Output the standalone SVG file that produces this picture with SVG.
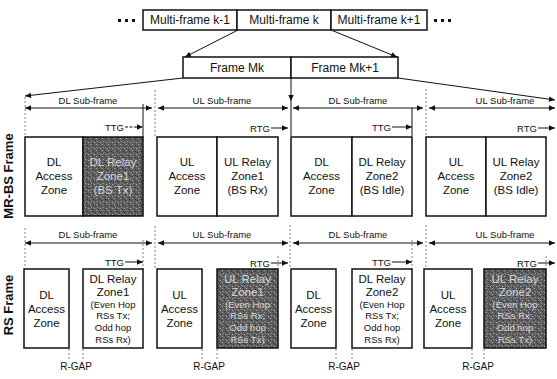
<svg xmlns="http://www.w3.org/2000/svg" width="557" height="379" viewBox="0 0 557 379">
<defs>
<marker id="ah" viewBox="0 0 10 10" refX="10" refY="5" markerWidth="7" markerHeight="6" markerUnits="userSpaceOnUse" orient="auto-start-reverse"><path d="M0,0.5 L10,5 L0,9.5 z" fill="#111"/></marker>
<pattern id="stip" width="6" height="6" patternUnits="userSpaceOnUse">
<rect width="6" height="6" fill="#5e5e5e"/>
<rect x="0" y="0" width="1" height="1" fill="#a8a8a8"/>
<rect x="3" y="1" width="1" height="1" fill="#2e2e2e"/>
<rect x="1" y="3" width="1" height="1" fill="#999"/>
<rect x="4" y="4" width="1" height="1" fill="#b0b0b0"/>
<rect x="5" y="2" width="1" height="1" fill="#383838"/>
<rect x="2" y="5" width="1" height="1" fill="#3c3c3c"/>
</pattern>
<style>
text{font-family:"Liberation Sans",Arial,Helvetica,sans-serif;fill:#111}
.box{fill:#fff;stroke:#111;stroke-width:1.5}
.sh{fill:url(#stip);stroke:#111;stroke-width:1.5}
.top{font-size:12px;text-anchor:middle}
.z{font-size:11.5px;text-anchor:middle}
.zs{font-size:9.5px;text-anchor:middle}
.lt{fill:#d6d6d6}
.sm{font-size:9.5px}
.rg{font-size:10px;text-anchor:middle}
.c{text-anchor:middle}
.e{text-anchor:end}
.ln{stroke:#111;stroke-width:1;fill:none}
.arr{stroke:#111;stroke-width:1;fill:none;marker-end:url(#ah)}
.dbl{stroke:#111;stroke-width:1;fill:none;marker-start:url(#ah);marker-end:url(#ah)}
.dash{stroke:#666;stroke-width:0.8;fill:none;stroke-dasharray:2 2}
.lab{font-size:13px;font-weight:bold;text-anchor:middle}
.dot{fill:#111}
</style>
</defs>

<g id="multiframes">
<rect x="118" y="19" width="3" height="3" class="dot"/>
<rect x="125" y="19" width="3" height="3" class="dot"/>
<rect x="132" y="19" width="3" height="3" class="dot"/>
<rect x="434" y="19" width="3" height="3" class="dot"/>
<rect x="441" y="19" width="3" height="3" class="dot"/>
<rect x="448" y="19" width="3" height="3" class="dot"/>
<g id="mf-km1"><rect x="143" y="10" width="94" height="20" class="box"/><text x="190" y="24" class="top">Multi-frame k-1</text></g>
<g id="mf-k"><rect x="237" y="10" width="94" height="20" class="box"/><text x="284" y="24" class="top">Multi-frame k</text></g>
<g id="mf-kp1"><rect x="331" y="10" width="96" height="20" class="box"/><text x="379" y="24" class="top">Multi-frame k+1</text></g>
</g>

<g id="frames">
<g id="frame-mk"><rect x="183" y="57" width="108" height="21" class="box"/><text x="237" y="72" class="top">Frame Mk</text></g>
<g id="frame-mk1"><rect x="291" y="57" width="107" height="21" class="box"/><text x="345" y="72" class="top">Frame Mk+1</text></g>
</g>

<g id="connectors">
<line x1="238" y1="30" x2="185" y2="57" class="arr"/>
<line x1="331" y1="30" x2="397" y2="57" class="arr"/>
<line x1="183" y1="78" x2="25" y2="96" class="arr"/>
<line x1="398" y1="78" x2="555" y2="100" class="arr"/>
<line x1="291" y1="78" x2="291" y2="101" class="arr"/>
<line x1="25" y1="97" x2="25" y2="137" class="dash"/>
<line x1="155" y1="90" x2="155" y2="137" class="dash"/>
<line x1="291" y1="101" x2="291" y2="136" class="ln"/>
<line x1="426" y1="89" x2="426" y2="136" class="dash"/>
<line x1="143" y1="104" x2="143" y2="137" class="ln"/>
<line x1="412" y1="108" x2="412" y2="136" class="ln"/>
<line x1="25" y1="108" x2="152" y2="108" class="dbl"/>
<line x1="158" y1="108" x2="288" y2="108" class="dbl"/>
<line x1="293" y1="108" x2="423" y2="108" class="dbl"/>
<line x1="429" y1="108" x2="555" y2="108" class="dbl"/>
<line x1="125" y1="127" x2="143" y2="127" class="arr" stroke-dasharray="3 1.5"/>
<line x1="271" y1="128" x2="288" y2="128" class="arr"/>
<line x1="392" y1="127" x2="412" y2="127" class="arr"/>
<line x1="538" y1="128" x2="555" y2="128" class="arr"/>
<line x1="25" y1="228" x2="25" y2="269" class="dash"/>
<line x1="155" y1="226" x2="155" y2="269" class="dash"/>
<line x1="290" y1="225" x2="290" y2="269" class="dash"/>
<line x1="426" y1="225" x2="426" y2="269" class="dash"/>
<line x1="143" y1="240" x2="143" y2="269" class="dash"/>
<line x1="412" y1="240" x2="412" y2="269" class="dash"/>
<line x1="278" y1="256" x2="278" y2="269" class="dash"/>
<line x1="546" y1="256" x2="546" y2="269" class="dash"/>
<line x1="25" y1="243" x2="152" y2="243" class="dbl"/>
<line x1="158" y1="243" x2="288" y2="243" class="dbl"/>
<line x1="293" y1="243" x2="423" y2="243" class="dbl"/>
<line x1="429" y1="243" x2="555" y2="243" class="dbl"/>
<line x1="125" y1="262" x2="143" y2="262" class="arr"/>
<line x1="271" y1="263" x2="288" y2="263" class="arr"/>
<line x1="392" y1="262" x2="412" y2="262" class="arr"/>
<line x1="538" y1="263" x2="555" y2="263" class="arr"/>
<line x1="69" y1="349" x2="69" y2="359" class="dash"/>
<line x1="83" y1="349" x2="83" y2="359" class="dash"/>
<line x1="202" y1="349" x2="202" y2="359" class="dash"/>
<line x1="217" y1="349" x2="217" y2="359" class="dash"/>
<line x1="336" y1="349" x2="336" y2="359" class="dash"/>
<line x1="352" y1="349" x2="352" y2="359" class="dash"/>
<line x1="472" y1="349" x2="472" y2="359" class="dash"/>
<line x1="484" y1="349" x2="484" y2="359" class="dash"/>
</g>

<g id="labels">
<text x="88" y="104" class="sm c">DL Sub-frame</text>
<text x="222" y="104" class="sm c">UL Sub-frame</text>
<text x="358" y="104" class="sm c">DL Sub-frame</text>
<text x="505" y="104" class="sm c">UL Sub-frame</text>
<text x="124" y="130.5" class="sm e">TTG</text>
<text x="270" y="131.5" class="sm e">RTG</text>
<text x="391" y="130.5" class="sm e">TTG</text>
<text x="537" y="131.5" class="sm e">RTG</text>
<text x="88" y="238" class="sm c">DL Sub-frame</text>
<text x="222" y="238" class="sm c">UL Sub-frame</text>
<text x="358" y="238" class="sm c">DL Sub-frame</text>
<text x="505" y="238" class="sm c">UL Sub-frame</text>
<text x="124" y="265.5" class="sm e">TTG</text>
<text x="270" y="266.5" class="sm e">RTG</text>
<text x="391" y="265.5" class="sm e">TTG</text>
<text x="537" y="266.5" class="sm e">RTG</text>
<text x="76" y="370" class="rg">R-GAP</text>
<text x="209" y="370" class="rg">R-GAP</text>
<text x="344" y="370" class="rg">R-GAP</text>
<text x="478" y="370" class="rg">R-GAP</text>
<text class="lab" transform="translate(13,176) rotate(-90)">MR-BS Frame</text>
<text class="lab" transform="translate(13,305) rotate(-90)">RS Frame</text>
</g>

<g id="mr-dl-access1"><rect x="25" y="137" width="58" height="79" class="box"/>
<text class="z" x="54" y="166">DL</text><text class="z" x="54" y="180">Access</text><text class="z" x="54" y="194">Zone</text></g>
<g id="mr-dl-relay1"><rect x="83" y="137" width="60" height="79" class="sh"/>
<text class="z lt" x="113" y="166">DL Relay</text><text class="z lt" x="113" y="180">Zone1</text><text class="z lt" x="113" y="194">(BS Tx)</text></g>
<g id="mr-ul-access1"><rect x="157" y="137" width="60" height="79" class="box"/>
<text class="z" x="187" y="166">UL</text><text class="z" x="187" y="180">Access</text><text class="z" x="187" y="194">Zone</text></g>
<g id="mr-ul-relay1"><rect x="217" y="137" width="61" height="79" class="box"/>
<text class="z" x="247.5" y="166">UL Relay</text><text class="z" x="247.5" y="180">Zone1</text><text class="z" x="247.5" y="194">(BS Rx)</text></g>
<g id="mr-dl-access2"><rect x="291" y="137" width="61" height="79" class="box"/>
<text class="z" x="321.5" y="166">DL</text><text class="z" x="321.5" y="180">Access</text><text class="z" x="321.5" y="194">Zone</text></g>
<g id="mr-dl-relay2"><rect x="352" y="137" width="60" height="79" class="box"/>
<text class="z" x="382" y="166">DL Relay</text><text class="z" x="382" y="180">Zone2</text><text class="z" x="382" y="194">(BS Idle)</text></g>
<g id="mr-ul-access2"><rect x="426" y="137" width="60" height="79" class="box"/>
<text class="z" x="456" y="166">UL</text><text class="z" x="456" y="180">Access</text><text class="z" x="456" y="194">Zone</text></g>
<g id="mr-ul-relay2"><rect x="486" y="137" width="60" height="79" class="box"/>
<text class="z" x="516" y="166">UL Relay</text><text class="z" x="516" y="180">Zone2</text><text class="z" x="516" y="194">(BS Idle)</text></g>

<g id="rs-dl-access1"><rect x="24" y="269" width="45" height="79" class="box"/>
<text class="z" x="46.5" y="299">DL</text><text class="z" x="46.5" y="313">Access</text><text class="z" x="46.5" y="327">Zone</text></g>
<g id="rs-dl-relay1"><rect x="83" y="269" width="60" height="79" class="box"/>
<text class="z" x="113" y="283">DL Relay</text><text class="z" x="113" y="296">Zone1</text>
<text class="zs" x="113" y="307.5">(Even Hop</text><text class="zs" x="113" y="319">RSs Tx;</text><text class="zs" x="113" y="331">Odd hop</text><text class="zs" x="113" y="342.5">RSs Rx)</text></g>
<g id="rs-ul-access1"><rect x="157" y="269" width="45" height="79" class="box"/>
<text class="z" x="179.5" y="299">UL</text><text class="z" x="179.5" y="313">Access</text><text class="z" x="179.5" y="327">Zone</text></g>
<g id="rs-ul-relay1"><rect x="217" y="269" width="61" height="79" class="sh"/>
<text class="z lt" x="247.5" y="283">UL Relay</text><text class="z lt" x="247.5" y="296">Zone1</text>
<text class="zs lt" x="247.5" y="307.5">(Even Hop</text><text class="zs lt" x="247.5" y="319">RSs Rx;</text><text class="zs lt" x="247.5" y="331">Odd hop</text><text class="zs lt" x="247.5" y="342.5">RSs Tx)</text></g>
<g id="rs-dl-access2"><rect x="291" y="269" width="45" height="79" class="box"/>
<text class="z" x="313.5" y="299">DL</text><text class="z" x="313.5" y="313">Access</text><text class="z" x="313.5" y="327">Zone</text></g>
<g id="rs-dl-relay2"><rect x="352" y="269" width="60" height="79" class="box"/>
<text class="z" x="382" y="283">DL Relay</text><text class="z" x="382" y="296">Zone2</text>
<text class="zs" x="382" y="307.5">(Even Hop</text><text class="zs" x="382" y="319">RSs Tx;</text><text class="zs" x="382" y="331">Odd hop</text><text class="zs" x="382" y="342.5">RSs Rx)</text></g>
<g id="rs-ul-access2"><rect x="424" y="269" width="48" height="79" class="box"/>
<text class="z" x="448" y="299">UL</text><text class="z" x="448" y="313">Access</text><text class="z" x="448" y="327">Zone</text></g>
<g id="rs-ul-relay2"><rect x="484" y="269" width="62" height="79" class="sh"/>
<text class="z lt" x="515" y="283">UL Relay</text><text class="z lt" x="515" y="296">Zone2</text>
<text class="zs lt" x="515" y="307.5">(Even Hop</text><text class="zs lt" x="515" y="319">RSs Rx;</text><text class="zs lt" x="515" y="331">Odd hop</text><text class="zs lt" x="515" y="342.5">RSs Tx)</text></g>
</svg>
